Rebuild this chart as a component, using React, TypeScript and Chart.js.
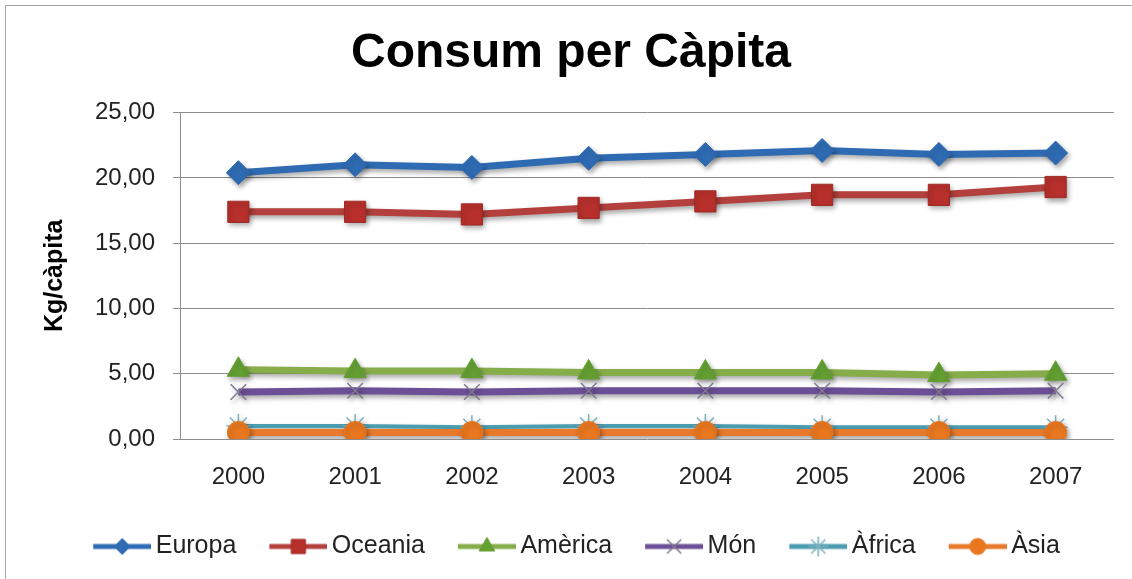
import React, { useEffect, useRef } from 'react';
import { Chart, registerables } from 'chart.js';
import { drawPoint } from 'chart.js/helpers';

Chart.register(...registerables);

const years = ['2000', '2001', '2002', '2003', '2004', '2005', '2006', '2007'];
const europa = [20.4, 21.0, 20.8, 21.5, 21.8, 22.1, 21.8, 21.9];
const oceania = [17.4, 17.4, 17.2, 17.7, 18.2, 18.7, 18.7, 19.3];
const america = [5.3, 5.2, 5.2, 5.1, 5.1, 5.1, 4.9, 5.0];
const mon = [3.6, 3.7, 3.6, 3.7, 3.7, 3.7, 3.6, 3.7];
const africa = [1.0, 1.0, 0.9, 1.0, 1.0, 0.9, 0.9, 0.9];
const asia = [0.5, 0.5, 0.5, 0.5, 0.5, 0.5, 0.5, 0.5];
const yTicks = [0, 5, 10, 15, 20, 25];

const FONT = '"Liberation Sans", Arial, sans-serif';

type SeriesStyle = {
  label: string;
  data: number[];
  line: string;
  fill: string;
  border: string;
  style: string;
  radius: number;
  bw: number;
  lineW: number;
  legendRadius: number;
};

const series: SeriesStyle[] = [
  { label: 'Europa', data: europa, line: '#2F6BB3', fill: '#2F6BB3', border: '#2F6BB3', style: 'rectRot', radius: 12, bw: 1, lineW: 7, legendRadius: 8 },
  { label: 'Oceania', data: oceania, line: '#B3403C', fill: '#B8302C', border: '#9E2A26', style: 'rect', radius: 15, bw: 1, lineW: 7, legendRadius: 10 },
  { label: 'Amèrica', data: america, line: '#86AD4A', fill: '#64A032', border: '#64A032', style: 'triangle', radius: 13, bw: 1, lineW: 7, legendRadius: 9 },
  { label: 'Món', data: mon, line: '#6C4F96', fill: '#6C4F96', border: '#7F7890', style: 'crossRot', radius: 11, bw: 1.5, lineW: 7, legendRadius: 10 },
  { label: 'Àfrica', data: africa, line: '#4C9DB2', fill: '#4C9DB2', border: '#7AAFBE', style: 'star', radius: 12, bw: 1.5, lineW: 4, legendRadius: 10 },
  { label: 'Àsia', data: asia, line: '#E87A2C', fill: '#E8771F', border: '#E8771F', style: 'circle', radius: 11, bw: 1, lineW: 7, legendRadius: 8 },
];

function makeIcon(s: SeriesStyle): HTMLCanvasElement {
  const c = document.createElement('canvas');
  c.width = 77;
  c.height = 30;
  const ctx = c.getContext('2d')!;
  ctx.strokeStyle = s.line;
  ctx.lineWidth = 5;
  ctx.beginPath();
  ctx.moveTo(19, 15);
  ctx.lineTo(77, 15);
  ctx.stroke();
  ctx.fillStyle = s.fill;
  ctx.strokeStyle = s.border;
  ctx.lineWidth = s.bw;
  drawPoint(ctx, { pointStyle: s.style as any, radius: s.legendRadius, borderWidth: s.bw, rotation: 0 } as any, 48, 15);
  return c;
}

const shadowPlugin = {
  id: 'lineShadow',
  beforeDatasetDraw(chart: any) {
    const ctx = chart.ctx;
    ctx.save();
    ctx.shadowColor = 'rgba(0,0,0,0.35)';
    ctx.shadowBlur = 5;
    ctx.shadowOffsetX = 2;
    ctx.shadowOffsetY = 3;
  },
  afterDatasetDraw(chart: any) {
    chart.ctx.restore();
  },
};

export default function App() {
  const ref = useRef<HTMLCanvasElement | null>(null);

  useEffect(() => {
    if (!ref.current) return;
    Chart.defaults.font.family = FONT;
    const icons = series.map(makeIcon);
    const chart = new Chart(ref.current, {
      type: 'line',
      data: {
        labels: years,
        datasets: series.map((s, i) => ({
          label: s.label,
          data: s.data,
          borderColor: s.line,
          backgroundColor: s.fill,
          borderWidth: s.lineW,
          pointStyle: s.style as any,
          pointRadius: s.radius,
          pointBackgroundColor: s.fill,
          pointBorderColor: s.border,
          pointBorderWidth: s.bw,
          tension: 0,
          order: series.length - 1 - i,
        })),
      },
      options: {
        responsive: false,
        animation: false,
        devicePixelRatio: 1,
        layout: { padding: { left: 28, right: 18, top: 0, bottom: 10 } },
        plugins: {
          title: {
            display: true,
            text: 'Consum per Càpita',
            color: '#000',
            font: { size: 48, weight: 'bold', family: FONT },
            padding: { top: 25, bottom: 30 },
          },
          legend: {
            position: 'bottom',
            labels: {
              usePointStyle: true,
              pointStyleWidth: 61,
              padding: 22,
              color: '#222',
              font: { size: 25, family: FONT },
              generateLabels: () =>
                series.map((s, i) => ({
                  text: s.label,
                  pointStyle: icons[i] as any,
                  fillStyle: s.fill,
                  strokeStyle: s.line,
                  lineWidth: 0,
                  hidden: false,
                  datasetIndex: i,
                  fontColor: '#222',
                })),
            },
          },
          tooltip: { enabled: false },
        },
        scales: {
          x: {
            offset: true,
            grid: { display: false, drawTicks: false },
            border: { display: false },
            ticks: { color: '#222', font: { size: 24, family: FONT }, padding: 24 },
            afterFit: (s: any) => {
              s.height = 73;
            },
          },
          y: {
            min: 0,
            max: 25,
            afterBuildTicks: (s: any) => {
              s.ticks = yTicks.map((v) => ({ value: v }));
            },
            grid: { color: '#8c8c8c', lineWidth: 1, tickLength: 7, drawTicks: true },
            border: { color: '#8c8c8c' },
            ticks: {
              color: '#222',
              font: { size: 24, family: FONT },
              padding: 18,
              callback: (v: any) => Number(v).toFixed(2).replace('.', ','),
            },
            title: {
              display: true,
              text: 'Kg/càpita',
              color: '#000',
              font: { size: 25, weight: 'bold', family: FONT },
              padding: { top: 12, bottom: 0 },
            },
            afterFit: (s: any) => {
              s.width = 152;
            },
          },
        },
      },
      plugins: [shadowPlugin],
    });
    return () => chart.destroy();
  }, []);

  return (
    <div style={{ position: 'fixed', left: 0, top: 0, width: 1132, height: 579, overflow: 'hidden', background: '#fff' }}>
      <div style={{ position: 'absolute', left: 5, top: 5, width: 1140, height: 590, border: '1px solid #a6a6a6', boxSizing: 'border-box' }} />
      <canvas ref={ref} width={1132} height={579} style={{ position: 'absolute', left: 0, top: 0, width: 1132, height: 579 }} />
    </div>
  );
}
